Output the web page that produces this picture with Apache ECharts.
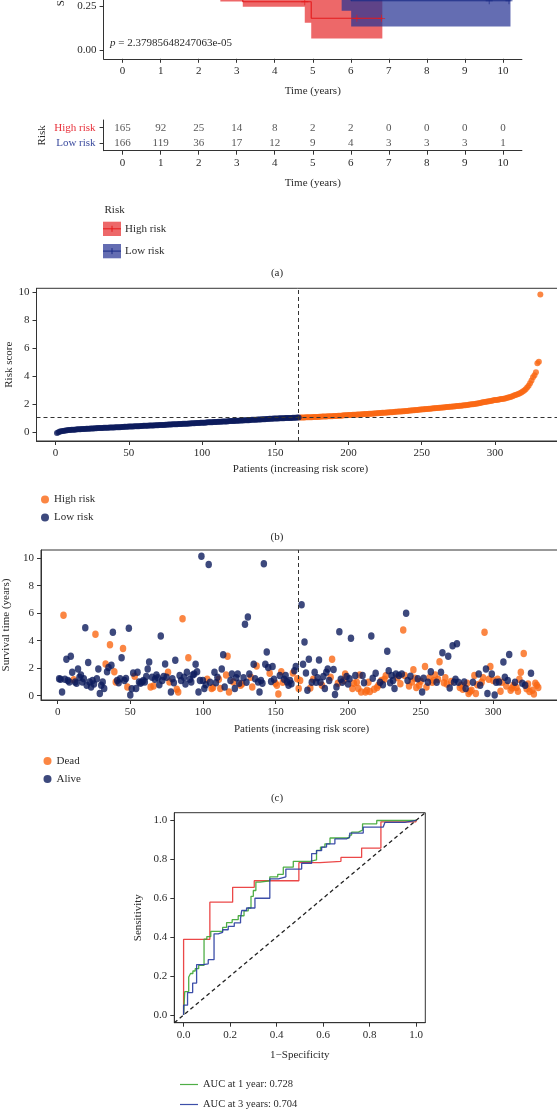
<!DOCTYPE html>
<html><head><meta charset="utf-8">
<script src="https://cdn.jsdelivr.net/npm/echarts@6.0.0/dist/echarts.min.js"></script>
<style>html,body{margin:0;padding:0;background:#fff}#c{width:557px;height:1109px}</style>
</head><body><div id="c"></div><script>
// ---------- DATA ----------
// (a) Kaplan-Meier
const redTimes = [0, 0.3, 0.7, 1.0, 1.4, 1.8, 2.2, 2.57, 3.16, 4.96, 6.83];
const redSurv  = [1, 0.9, 0.78, 0.68, 0.57, 0.48, 0.40, 0.34, 0.274, 0.18, 0.18];
const redBandTimes = [0, 0.3, 0.7, 1.0, 1.4, 1.8, 2.2, 2.57, 3.16, 4.79, 4.96, 6.83];
const redBandLower = [1, 0.85, 0.72, 0.61, 0.50, 0.41, 0.33, 0.275, 0.246, 0.155, 0.066, 0.066];
const redBandUpper = [1, 0.95, 0.85, 0.76, 0.66, 0.58, 0.50, 0.45, 0.40, 0.40, 0.42, 0.42];
const blueTimes = [0, 0.5, 1, 1.5, 2, 2.5, 3, 3.5, 4, 5, 6.01, 10.2];
const blueSurv  = [1, 0.95, 0.88, 0.8, 0.72, 0.65, 0.58, 0.52, 0.47, 0.4, 0.28, 0.28];
const blueBandTimes = [0, 0.5, 1, 1.5, 2, 2.5, 3, 3.5, 4, 5, 5.76, 6.01, 10.2];
const blueBandLower = [1, 0.92, 0.84, 0.75, 0.66, 0.58, 0.5, 0.43, 0.38, 0.3, 0.223, 0.133, 0.133];
const blueBandUpper = [1, 0.98, 0.92, 0.85, 0.78, 0.72, 0.66, 0.61, 0.57, 0.52, 0.5, 0.5, 0.5];
const redCensorT = [4.79, 6.16, 6.81];
const redCensorS = [0.274, 0.18, 0.18];
const blueCensorT = [9.64, 10.16];
const blueCensorS = [0.28, 0.28];
const pValueText = '2.37985648247063e-05';
const timeTicks = [0,1,2,3,4,5,6,7,8,9,10];
const survTicks = [0, 0.25, 0.5, 0.75, 1];
const riskGroups = ['Low risk', 'High risk'];
const atRiskHigh = [165, 92, 25, 14, 8, 2, 2, 0, 0, 0, 0];
const atRiskLow  = [166, 119, 36, 17, 12, 9, 4, 3, 3, 3, 1];

// (b) risk score, patients sorted by increasing risk score
const riskLow = [
 -0.03,0.03,0.07,0.09,0.12,0.13,0.15,0.16,0.18,0.19,
 0.2,0.21,0.21,0.22,0.23,0.24,0.24,0.25,0.26,0.26,
 0.27,0.28,0.28,0.29,0.29,0.3,0.31,0.31,0.32,0.32,
 0.33,0.33,0.34,0.34,0.35,0.35,0.36,0.36,0.37,0.37,
 0.38,0.38,0.39,0.39,0.4,0.4,0.41,0.41,0.42,0.43,
 0.43,0.44,0.44,0.45,0.45,0.46,0.46,0.47,0.47,0.48,
 0.48,0.49,0.49,0.5,0.5,0.51,0.51,0.52,0.53,0.53,
 0.54,0.54,0.55,0.55,0.56,0.56,0.57,0.57,0.58,0.59,
 0.59,0.6,0.6,0.61,0.61,0.62,0.63,0.63,0.64,0.64,
 0.65,0.65,0.66,0.67,0.67,0.68,0.68,0.69,0.7,0.7,
 0.71,0.71,0.72,0.73,0.73,0.74,0.74,0.75,0.76,0.76,
 0.77,0.77,0.78,0.79,0.79,0.8,0.8,0.81,0.82,0.82,
 0.83,0.83,0.84,0.85,0.85,0.86,0.86,0.87,0.88,0.88,
 0.89,0.89,0.9,0.91,0.91,0.92,0.92,0.93,0.94,0.94,
 0.95,0.95,0.96,0.97,0.97,0.98,0.98,0.99,1.0,1.0,
 1.01,1.01,1.02,1.02,1.03,1.03,1.04,1.04,1.05,1.05,
 1.05,1.06,1.06,1.06,1.07,1.07];
const riskHigh = [
 1.07,1.08,1.08,1.08,1.09,1.09,1.1,1.1,1.1,1.11,
 1.11,1.12,1.12,1.13,1.13,1.14,1.14,1.15,1.15,1.16,
 1.16,1.17,1.17,1.18,1.19,1.19,1.2,1.21,1.21,1.22,
 1.23,1.23,1.24,1.25,1.25,1.26,1.27,1.27,1.28,1.29,
 1.29,1.3,1.31,1.31,1.32,1.33,1.33,1.34,1.35,1.35,
 1.36,1.37,1.38,1.38,1.39,1.4,1.41,1.41,1.42,1.43,
 1.44,1.45,1.45,1.46,1.47,1.48,1.49,1.5,1.5,1.51,
 1.52,1.53,1.54,1.55,1.56,1.57,1.58,1.59,1.6,1.61,
 1.62,1.63,1.64,1.65,1.66,1.67,1.68,1.69,1.7,1.71,
 1.72,1.73,1.74,1.75,1.76,1.77,1.78,1.79,1.8,1.81,
 1.82,1.83,1.84,1.85,1.86,1.87,1.88,1.89,1.9,1.91,
 1.92,1.93,1.95,1.96,1.97,1.99,2.0,2.02,2.03,2.05,
 2.06,2.08,2.1,2.12,2.14,2.16,2.18,2.2,2.22,2.24,
 2.26,2.28,2.3,2.32,2.33,2.35,2.37,2.39,2.4,2.42,
 2.44,2.47,2.5,2.53,2.56,2.6,2.64,2.68,2.72,2.76,
 2.8,2.86,2.93,3.0,3.1,3.22,3.35,3.52,3.72,3.95,
 4.1,4.3,4.95,5.05,9.85];
const patientTicks = [0,50,100,150,200,250,300];
const riskTicks = [0,2,4,6,8,10];
const cutoffPatient = 166;
const cutoffRisk = 1.07;

// (c) survival time (years) and status per patient (1 = dead, 0 = alive)
const survTime = [
 1.23,1.2,0.28,5.85,1.2,2.65,1.1,1.0,2.88,1.7,
 1.16,1.0,0.9,1.94,1.35,1.5,1.0,1.23,4.94,0.76,
 2.41,1.0,0.64,1.1,0.85,4.47,1.23,1.94,0.17,0.76,
 1.0,0.52,2.3,1.75,2.05,3.7,2.22,4.61,1.75,1.0,
 1.11,0.95,1.23,2.77,3.43,1.11,1.25,0.64,4.9,0.05,
 0.5,1.65,1.42,0.52,1.7,1.0,0.9,1.0,1.1,1.0,
 1.4,1.94,2.46,0.64,1.35,0.7,1.2,1.5,1.3,0.8,
 4.35,1.11,1.4,2.3,1.35,1.7,1.0,0.28,1.23,0.95,
 2.58,0.47,0.28,1.47,1.11,5.6,1.35,0.85,1.7,2.77,
 1.2,1.0,1.5,1.58,2.29,1.75,0.28,1.11,10.15,1.11,
 0.52,0.8,1.2,9.55,0.99,0.52,0.6,1.7,0.95,1.35,
 1.2,0.52,1.94,2.99,0.64,1.5,2.88,0.28,1.1,1.58,
 1.0,0.52,1.3,1.58,0.9,0.76,0.87,1.3,5.2,0.99,
 5.72,1.58,1.35,0.64,2.29,1.23,2.17,1.0,0.28,1.11,
 0.9,9.6,2.29,3.19,2.06,1.63,1.04,2.13,1.2,0.9,
 0.76,0.12,1.47,1.75,0.99,1.2,1.47,1.0,0.76,1.1,
 0.87,1.65,1.82,2.13,1.23,0.52,
 1.11,6.62,2.29,3.9,
 1.65,0.4,2.65,0.57,0.99,1.2,1.7,0.99,1.3,2.6,
 0.99,0.76,1.4,0.52,1.7,1.94,1.11,1.35,2.65,1.9,
 0.09,0.64,0.9,4.66,1.2,0.99,1.1,1.58,1.4,0.85,
 1.23,4.18,0.52,0.9,1.47,0.99,0.52,1.51,0.28,1.47,
 0.95,0.28,0.4,0.99,0.3,4.35,1.28,0.47,1.63,0.6,
 0.76,0.99,1.11,0.8,1.2,1.45,3.24,1.82,0.95,1.47,
 1.11,0.52,1.58,1.3,1.47,0.87,1.58,4.78,1.47,6.0,
 1.11,0.71,1.42,1.0,1.89,1.28,0.6,1.23,0.76,1.05,
 0.28,1.28,2.13,0.64,0.99,1.3,1.75,0.99,1.11,1.51,
 0.99,1.2,2.48,1.7,3.12,0.95,1.3,0.85,2.88,0.57,
 1.04,3.64,0.99,1.2,3.78,0.99,0.6,0.76,0.47,1.0,
 0.52,0.9,0.17,0.3,0.4,0.99,1.47,0.17,0.8,1.58,
 0.76,0.99,1.3,4.61,1.94,0.17,1.2,2.13,1.58,1.11,
 0.05,0.99,1.2,1.0,0.33,0.99,2.46,1.35,0.7,1.1,
 3.0,0.4,0.57,0.76,0.99,0.6,0.33,1.2,1.7,0.9,
 3.07,0.76,0.5,0.85,0.3,1.63,0.4,0.12,0.9,0.76,0.6];
const survStatus = [
 0,0,0,1,0,0,0,0,0,0, 1,0,0,0,0,0,0,0,0,0, 0,0,0,0,0,1,0,0,0,0,
 0,0,1,0,0,1,0,0,1,1, 0,0,0,0,1,0,0,1,0,0, 0,0,1,0,0,0,0,0,0,0,
 0,0,0,1,0,1,0,0,0,0, 0,0,0,0,0,1,1,0,0,0, 0,1,1,0,0,1,0,0,0,1,
 0,0,0,0,0,0,0,0,0,0, 0,0,1,0,0,1,1,0,0,0, 1,1,0,0,0,1,1,1,0,0,
 1,0,0,0,0,1,1,0,0,0, 0,0,1,1,0,0,1,0,0,0, 0,0,0,0,0,1,0,0,0,1,
 1,1,0,1,1,0,0,0,0,0, 0,1,0,0,1,1,
 1,0,0,0,
 0,0,0,1,0,1,0,0,0,0, 0,1,0,0,0,0,0,1,1,0, 0,0,1,0,0,0,1,1,0,0,
 0,0,1,1,0,1,1,1,1,0, 0,1,1,1,1,0,0,1,0,1, 1,0,1,0,1,1,0,0,0,0,
 0,0,0,1,0,1,0,1,1,0, 0,1,0,1,1,1,1,0,1,1, 0,0,1,1,0,1,0,1,1,1,
 0,1,1,0,0,1,1,1,0,0, 1,0,0,0,0,0,1,1,1,0, 0,1,1,1,1,0,1,1,1,0,
 0,1,1,1,0,0,1,1,0,1, 0,0,1,0,1,1,0,0,1,0, 0,1,1,1,0,1,1,1,1,0,
 1,0,1,1,1,0,1,1,1,1,1];
const timeTicksC = [0,2,4,6,8,10];

// (d) time-dependent ROC curves [1-specificity, sensitivity]
const roc1yFpr = [0,0.005,0.022,0.03,0.04,0.05,0.065,0.088,0.1,0.117,0.168,0.185,0.209,0.235,0.26,0.278,0.29,0.3,0.311,0.329,0.371,0.405,0.429,0.472,0.544,0.572,0.589,0.608,0.63,0.713,0.723,0.752,0.77,0.831,1];
const roc1yTpr = [0,0.12,0.195,0.213,0.226,0.238,0.255,0.39,0.403,0.43,0.45,0.475,0.49,0.51,0.535,0.55,0.61,0.64,0.683,0.69,0.71,0.723,0.76,0.79,0.797,0.846,0.863,0.88,0.91,0.925,0.94,0.95,0.983,1.0,1];
const roc3yFpr = [0,0,0.017,0.039,0.056,0.085,0.106,0.131,0.149,0.168,0.192,0.218,0.245,0.25,0.271,0.307,0.371,0.408,0.44,0.508,0.551,0.572,0.594,0.615,0.651,0.701,0.715,0.773,0.859,0.866,0.952,1];
const roc3yTpr = [0,0.05,0.115,0.164,0.259,0.263,0.284,0.417,0.425,0.438,0.455,0.473,0.495,0.537,0.55,0.6,0.7,0.71,0.75,0.78,0.83,0.845,0.863,0.88,0.905,0.915,0.935,0.966,0.974,0.99,1.0,1];
const roc5yFpr = [0,0,0.113,0.211,0.304,0.496,0.587,0.677,0.766,0.849,1];
const roc5yTpr = [0,0.389,0.58,0.656,0.69,0.783,0.79,0.81,0.858,0.993,1];
const rocTicks = [0,0.2,0.4,0.6,0.8,1.0];
const aucLabels = ['AUC at 1 year: 0.728', 'AUC at 3 years: 0.704', 'AUC at 5 years'];

// ---------- STYLE ----------
const FONT = 'Liberation Serif';
const TXT = '#2a2a2a';
const AX = '#333333';
const RED = '#E41A1C', RED_BAND = 'rgba(228,26,28,0.66)';
const BLUE = '#1B2C86', BLUE_BAND = 'rgba(40,52,148,0.72)';
const ORANGE = '#FA6814', NAVY = '#0C1C5C';
const GREEN_ROC = 'rgba(60,165,50,0.9)', BLUE_ROC = 'rgba(40,60,160,0.9)', RED_ROC = 'rgba(232,40,40,0.85)';

const zip = (a, b) => a.map((v, i) => [v, b[i]]);
function axis(gridIndex, o) {
  const ticks = o.ticks;
  return {
    type: o.type || 'value', gridIndex, min: o.min, max: o.max, data: o.data,
    name: o.name || '', nameLocation: 'middle', nameGap: o.nameGap || 25, nameRotate: o.nameRotate,
    nameMoveOverlap: false,
    nameTextStyle: {fontFamily: FONT, fontSize: 11, color: TXT},
    axisLine: {show: true, onZero: false, lineStyle: {color: AX, width: 1}},
    axisTick: Object.assign({show: true, length: 4, lineStyle: {color: AX}}, ticks ? {customValues: ticks} : {alignWithLabel: true}),
    axisLabel: Object.assign({fontFamily: FONT, fontSize: o.fontSize || 11, color: o.labelColor || TXT, margin: o.margin || 7, formatter: o.fmt},
      ticks ? {customValues: ticks} : {}),
    splitLine: {show: false}
  };
}
function bandPoly(times, lo, hi, color) {
  return {
    type: 'custom', xAxisIndex: 0, yAxisIndex: 0, clip: true, silent: true, z: 1,
    data: [times.map((t, i) => [t, lo[i], hi[i]])],
    renderItem: function (params, api) {
      const pts = [];
      for (let i = 0; i < times.length - 1; i++) {
        pts.push(api.coord([times[i], hi[i]]), api.coord([times[i + 1], hi[i]]));
      }
      for (let i = times.length - 2; i >= 0; i--) {
        pts.push(api.coord([times[i + 1], lo[i]]), api.coord([times[i], lo[i]]));
      }
      return {type: 'polygon', shape: {points: pts}, style: {fill: color}};
    }
  };
}
const PLUS = 'path://M4.4,0H5.6V4.4H10V5.6H5.6V10H4.4V5.6H0V4.4H4.4Z';
const tableData = [];
timeTicks.forEach((t, i) => {
  tableData.push([t, 'High risk', atRiskHigh[i]]);
  tableData.push([t, 'Low risk', atRiskLow[i]]);
});
const deadPts = [], alivePts = [];
survTime.forEach((v, i) => (survStatus[i] ? deadPts : alivePts).push([i + 1, v]));
const lowPts = riskLow.map((v, i) => [i + 1, v]);
const highPts = riskHigh.map((v, i) => [riskLow.length + i + 1, v]);
const dashed = {color: '#333', type: [4, 3], width: 1};
const legendText = {fontFamily: FONT, fontSize: 11, color: TXT};
const G = {outerBoundsMode: 'none', containLabel: false};

const option = {
  animation: false,
  backgroundColor: '#fff',
  textStyle: {fontFamily: FONT},
  grid: [
    Object.assign({left: 103.6, top: -134.8, width: 418.3, height: 193.6}, G),
    Object.assign({left: 103.6, top: 120, width: 418.3, height: 30.7}, G),
    Object.assign({left: 36.5, top: 288.3, right: -7.5, height: 152.7, show: true, borderColor: AX, borderWidth: 1}, G),
    Object.assign({left: 41, top: 550, right: -5.2, height: 150, show: true, borderColor: AX, borderWidth: 1}, G),
    Object.assign({left: 174.3, top: 812.7, width: 251, height: 210, show: true, borderColor: AX, borderWidth: 1}, G)
  ],
  xAxis: [
    axis(0, {min: -0.5, max: 10.5, ticks: timeTicks, name: 'Time (years)', nameGap: 27}),
    axis(1, {min: -0.5, max: 10.5, ticks: timeTicks, name: 'Time (years)', nameGap: 27}),
    axis(2, {min: -13, max: 347.5, ticks: patientTicks, name: 'Patients (increasing risk score)', nameGap: 23}),
    axis(3, {min: -11.5, max: 347.5, ticks: patientTicks, name: 'Patients (increasing risk score)', nameGap: 24}),
    axis(4, {min: -0.04, max: 1.04, ticks: rocTicks, name: '1\u2212Specificity', nameGap: 27, fmt: v => v.toFixed(1)})
  ],
  yAxis: [
    axis(0, {min: -0.05, max: 1.05, ticks: survTicks, name: 'Survival probability', nameGap: 37, fmt: v => v.toFixed(2)}),
    axis(1, {type: 'category', data: riskGroups, name: 'Risk', nameGap: 56, margin: 8,
      labelColor: v => v === 'High risk' ? '#E8303A' : '#3A4A9E'}),
    axis(2, {min: -0.6, max: 10.3, ticks: riskTicks, name: 'Risk score', nameGap: 22}),
    axis(3, {min: -0.31, max: 10.6, ticks: timeTicksC, name: 'Survival time (years)', nameGap: 29}),
    axis(4, {min: -0.04, max: 1.04, ticks: rocTicks, name: 'Sensitivity', nameGap: 31, fmt: v => v.toFixed(1)})
  ],
  legend: [
    {data: ['High risk', 'Low risk'], orient: 'vertical', left: 36, top: 489, itemGap: 7, icon: 'circle',
      itemWidth: 8, itemHeight: 8, textStyle: legendText, selectedMode: false},
    {data: ['Dead', 'Alive'], orient: 'vertical', left: 38.5, top: 750.5, itemGap: 7, icon: 'circle',
      itemWidth: 8, itemHeight: 8, textStyle: legendText, selectedMode: false},
    {data: [aucLabels[0]], left: 175, top: 1074, icon: 'rect', itemWidth: 18, itemHeight: 1.2,
      textStyle: {fontFamily: FONT, fontSize: 10.5, color: TXT}, selectedMode: false},
    {data: [aucLabels[1]], left: 175, top: 1094, icon: 'rect', itemWidth: 18, itemHeight: 1.2,
      textStyle: {fontFamily: FONT, fontSize: 10.5, color: TXT}, selectedMode: false}
  ],
  graphic: [
    {type: 'text', x: 110, y: 43.5, style: {text: '{i|p} = ' + pValueText, font: '11px "Liberation Serif"', fill: TXT,
      verticalAlign: 'middle', rich: {i: {fontStyle: 'italic', fontFamily: FONT, fontSize: 11, fill: TXT}}}},
    {type: 'text', x: 104.5, y: 210, style: {text: 'Risk', font: '11px "Liberation Serif"', fill: TXT, verticalAlign: 'middle'}},
    {type: 'rect', shape: {x: 103, y: 221.7, width: 18, height: 14.3}, style: {fill: RED_BAND}},
    {type: 'line', shape: {x1: 103, y1: 228.8, x2: 121, y2: 228.8}, style: {stroke: RED, lineWidth: 1}},
    {type: 'line', shape: {x1: 112, y1: 225.8, x2: 112, y2: 231.8}, style: {stroke: RED, lineWidth: 1}},
    {type: 'text', x: 125, y: 229, style: {text: 'High risk', font: '11px "Liberation Serif"', fill: TXT, verticalAlign: 'middle'}},
    {type: 'rect', shape: {x: 103, y: 244, width: 18, height: 14.3}, style: {fill: BLUE_BAND}},
    {type: 'line', shape: {x1: 103, y1: 251.1, x2: 121, y2: 251.1}, style: {stroke: BLUE, lineWidth: 1}},
    {type: 'line', shape: {x1: 112, y1: 248.1, x2: 112, y2: 254.1}, style: {stroke: BLUE, lineWidth: 1}},
    {type: 'text', x: 125, y: 251.3, style: {text: 'Low risk', font: '11px "Liberation Serif"', fill: TXT, verticalAlign: 'middle'}},
    {type: 'text', x: 277, y: 272.7, style: {text: '(a)', font: '11px "Liberation Serif"', fill: TXT, align: 'center', verticalAlign: 'middle'}},
    {type: 'text', x: 277, y: 537.3, style: {text: '(b)', font: '11px "Liberation Serif"', fill: TXT, align: 'center', verticalAlign: 'middle'}},
    {type: 'text', x: 277, y: 798, style: {text: '(c)', font: '11px "Liberation Serif"', fill: TXT, align: 'center', verticalAlign: 'middle'}}
  ],
  series: [
    bandPoly(redBandTimes, redBandLower, redBandUpper, RED_BAND),
    bandPoly(blueBandTimes, blueBandLower, blueBandUpper, BLUE_BAND),
    {type: 'line', name: 'High risk KM', xAxisIndex: 0, yAxisIndex: 0, data: zip(redTimes, redSurv), step: 'end',
      symbol: 'none', lineStyle: {color: RED, width: 1.1}, z: 3},
    {type: 'line', name: 'Low risk KM', xAxisIndex: 0, yAxisIndex: 0, data: zip(blueTimes, blueSurv), step: 'end',
      symbol: 'none', lineStyle: {color: BLUE, width: 1.1}, z: 3},
    {type: 'scatter', xAxisIndex: 0, yAxisIndex: 0, data: zip(redCensorT, redCensorS), symbol: PLUS, symbolSize: 7,
      itemStyle: {color: RED}, z: 4},
    {type: 'scatter', xAxisIndex: 0, yAxisIndex: 0, data: zip(blueCensorT, blueCensorS), symbol: PLUS, symbolSize: 7,
      itemStyle: {color: BLUE}, z: 4},
    {type: 'scatter', xAxisIndex: 1, yAxisIndex: 1, data: tableData, symbolSize: 0.1, itemStyle: {color: 'rgba(0,0,0,0)'},
      label: {show: true, position: 'inside', formatter: p => String(p.value[2]), fontFamily: FONT, fontSize: 11, color: TXT}},
    {type: 'scatter', name: 'High risk', xAxisIndex: 2, yAxisIndex: 2, data: highPts, symbolSize: 6, itemStyle: {color: ORANGE}},
    {type: 'scatter', name: 'Low risk', xAxisIndex: 2, yAxisIndex: 2, data: lowPts, symbolSize: 6, itemStyle: {color: NAVY},
      markLine: {silent: true, symbol: 'none', label: {show: false}, lineStyle: dashed,
        data: [{xAxis: cutoffPatient}, {yAxis: cutoffRisk}]}},
    {type: 'scatter', name: 'Dead', xAxisIndex: 3, yAxisIndex: 3, data: deadPts, symbolSize: [6.5, 7.5], itemStyle: {color: ORANGE}},
    {type: 'scatter', name: 'Alive', xAxisIndex: 3, yAxisIndex: 3, data: alivePts, symbolSize: [6.5, 7.5], itemStyle: {color: NAVY},
      markLine: {silent: true, symbol: 'none', label: {show: false}, lineStyle: dashed, data: [{xAxis: cutoffPatient}]}},
    {type: 'line', name: aucLabels[2], xAxisIndex: 4, yAxisIndex: 4, data: zip(roc5yFpr, roc5yTpr), step: 'end', symbol: 'none',
      itemStyle: {color: RED_ROC}, lineStyle: {color: RED_ROC, width: 1.3}},
    {type: 'line', name: aucLabels[0], xAxisIndex: 4, yAxisIndex: 4, data: zip(roc1yFpr, roc1yTpr), step: 'end', symbol: 'none',
      itemStyle: {color: GREEN_ROC}, lineStyle: {color: GREEN_ROC, width: 1.3}},
    {type: 'line', name: aucLabels[1], xAxisIndex: 4, yAxisIndex: 4, data: zip(roc3yFpr, roc3yTpr), step: 'end', symbol: 'none',
      itemStyle: {color: BLUE_ROC}, lineStyle: {color: BLUE_ROC, width: 1.3}},
    {type: 'line', xAxisIndex: 4, yAxisIndex: 4, data: [[-0.04, -0.04], [1.04, 1.04]], symbol: 'none',
      lineStyle: {color: '#222', type: [4, 3], width: 1.3}, z: 5}
  ]
};
const chart = echarts.init(document.getElementById('c'), null, {renderer: 'canvas'});
chart.setOption(option);
</script></body></html>
